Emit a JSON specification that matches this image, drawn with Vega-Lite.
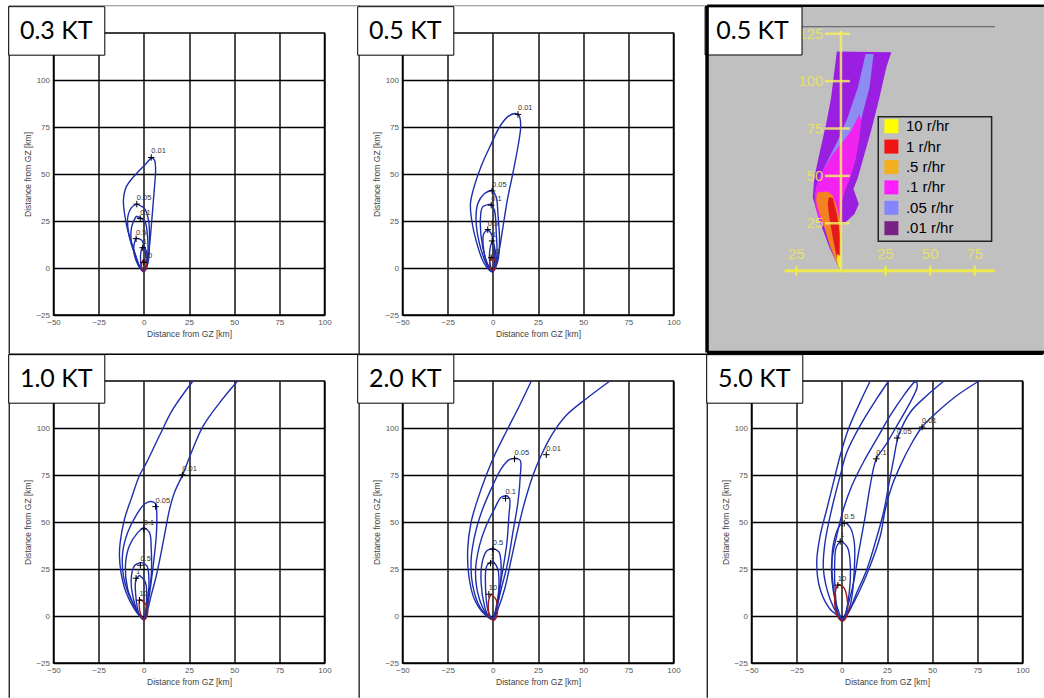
{
"$schema": "https://vega.github.io/schema/vega-lite/v6.json",
"background": "white",
"padding": {"left": 6.5, "top": 3, "right": 0, "bottom": 0},
"datasets": {
"one": [{}],
"contours": [
{"p":"0.3","l":"0.01","i":0,"x":4.1,"y":58.8},{"p":"0.3","l":"0.01","i":1,"x":5.9,"y":57.4},{"p":"0.3","l":"0.01","i":2,"x":6.5,"y":52},{"p":"0.3","l":"0.01","i":3,"x":5.9,"y":43},{"p":"0.3","l":"0.01","i":4,"x":5,"y":32.5},{"p":"0.3","l":"0.01","i":5,"x":4.1,"y":21.8},{"p":"0.3","l":"0.01","i":6,"x":3.1,"y":11.2},{"p":"0.3","l":"0.01","i":7,"x":2.2,"y":2.3},{"p":"0.3","l":"0.01","i":8,"x":0,"y":-2.1},{"p":"0.3","l":"0.01","i":9,"x":-1.5,"y":-0.9},{"p":"0.3","l":"0.01","i":10,"x":-3.3,"y":3.2},{"p":"0.3","l":"0.01","i":11,"x":-6.1,"y":11},{"p":"0.3","l":"0.01","i":12,"x":-8.9,"y":20},{"p":"0.3","l":"0.01","i":13,"x":-10.7,"y":29},{"p":"0.3","l":"0.01","i":14,"x":-11.3,"y":36},{"p":"0.3","l":"0.01","i":15,"x":-9.8,"y":43},{"p":"0.3","l":"0.01","i":16,"x":-4.3,"y":50},{"p":"0.3","l":"0.01","i":17,"x":1.3,"y":55.6},{"p":"0.3","l":"0.01","i":18,"x":4.1,"y":58.8},
{"p":"0.3","l":"0.05","i":0,"x":-3.9,"y":34},{"p":"0.3","l":"0.05","i":1,"x":0.4,"y":31.6},{"p":"0.3","l":"0.05","i":2,"x":2.6,"y":25.4},{"p":"0.3","l":"0.05","i":3,"x":3.1,"y":14.7},{"p":"0.3","l":"0.05","i":4,"x":2.2,"y":4},{"p":"0.3","l":"0.05","i":5,"x":0,"y":-1.5},{"p":"0.3","l":"0.05","i":6,"x":-2.5,"y":0.5},{"p":"0.3","l":"0.05","i":7,"x":-5.2,"y":7.6},{"p":"0.3","l":"0.05","i":8,"x":-8.3,"y":18},{"p":"0.3","l":"0.05","i":9,"x":-8.9,"y":27},{"p":"0.3","l":"0.05","i":10,"x":-6.5,"y":32.5},{"p":"0.3","l":"0.05","i":11,"x":-3.9,"y":34},
{"p":"0.3","l":"0.1","i":0,"x":-4.3,"y":27.5},{"p":"0.3","l":"0.1","i":1,"x":-1.5,"y":26.5},{"p":"0.3","l":"0.1","i":2,"x":0.7,"y":24.5},{"p":"0.3","l":"0.1","i":3,"x":1.9,"y":18.3},{"p":"0.3","l":"0.1","i":4,"x":2.2,"y":7.6},{"p":"0.3","l":"0.1","i":5,"x":0.5,"y":-1},{"p":"0.3","l":"0.1","i":6,"x":-2,"y":0},{"p":"0.3","l":"0.1","i":7,"x":-4.3,"y":5.9},{"p":"0.3","l":"0.1","i":8,"x":-7,"y":14.7},{"p":"0.3","l":"0.1","i":9,"x":-6.7,"y":22},{"p":"0.3","l":"0.1","i":10,"x":-4.3,"y":27.5},
{"p":"0.3","l":"0.5","i":0,"x":-4.3,"y":16},{"p":"0.3","l":"0.5","i":1,"x":-1.5,"y":15},{"p":"0.3","l":"0.5","i":2,"x":-0.6,"y":13.9},{"p":"0.3","l":"0.5","i":3,"x":1,"y":7.6},{"p":"0.3","l":"0.5","i":4,"x":0.5,"y":-0.5},{"p":"0.3","l":"0.5","i":5,"x":-2,"y":0.5},{"p":"0.3","l":"0.5","i":6,"x":-4.3,"y":4},{"p":"0.3","l":"0.5","i":7,"x":-5.6,"y":11.2},{"p":"0.3","l":"0.5","i":8,"x":-4.3,"y":16},
{"p":"0.3","l":"1","i":0,"x":-0.6,"y":11.5},{"p":"0.3","l":"1","i":1,"x":1,"y":10},{"p":"0.3","l":"1","i":2,"x":1.8,"y":4},{"p":"0.3","l":"1","i":3,"x":0.8,"y":-0.5},{"p":"0.3","l":"1","i":4,"x":-1,"y":-0.5},{"p":"0.3","l":"1","i":5,"x":-1.8,"y":4},{"p":"0.3","l":"1","i":6,"x":-1.5,"y":9},{"p":"0.3","l":"1","i":7,"x":-0.6,"y":11.5},
{"p":"0.3","l":"10","i":0,"x":0,"y":4.5},{"p":"0.3","l":"10","i":1,"x":1.2,"y":3},{"p":"0.3","l":"10","i":2,"x":1.5,"y":0.5},{"p":"0.3","l":"10","i":3,"x":0.5,"y":-1.2},{"p":"0.3","l":"10","i":4,"x":-0.8,"y":-1},{"p":"0.3","l":"10","i":5,"x":-1.3,"y":1},{"p":"0.3","l":"10","i":6,"x":-0.8,"y":3.5},{"p":"0.3","l":"10","i":7,"x":0,"y":4.5},

{"p":"0.5","l":"0.01","i":0,"x":13.9,"y":81.7},{"p":"0.5","l":"0.01","i":1,"x":14.8,"y":80.5},{"p":"0.5","l":"0.01","i":2,"x":15.4,"y":75},{"p":"0.5","l":"0.01","i":3,"x":13.9,"y":64.5},{"p":"0.5","l":"0.01","i":4,"x":11,"y":50},{"p":"0.5","l":"0.01","i":5,"x":8,"y":36},{"p":"0.5","l":"0.01","i":6,"x":5.6,"y":21.8},{"p":"0.5","l":"0.01","i":7,"x":3.1,"y":7.6},{"p":"0.5","l":"0.01","i":8,"x":0,"y":-2.1},{"p":"0.5","l":"0.01","i":9,"x":-1.9,"y":-1.2},{"p":"0.5","l":"0.01","i":10,"x":-5.6,"y":4},{"p":"0.5","l":"0.01","i":11,"x":-9.3,"y":14.7},{"p":"0.5","l":"0.01","i":12,"x":-11.7,"y":25.4},{"p":"0.5","l":"0.01","i":13,"x":-12.4,"y":34},{"p":"0.5","l":"0.01","i":14,"x":-11,"y":41},{"p":"0.5","l":"0.01","i":15,"x":-6.5,"y":54},{"p":"0.5","l":"0.01","i":16,"x":-0.9,"y":66},{"p":"0.5","l":"0.01","i":17,"x":3.7,"y":75},{"p":"0.5","l":"0.01","i":18,"x":8.3,"y":80.5},{"p":"0.5","l":"0.01","i":19,"x":12,"y":82.2},{"p":"0.5","l":"0.01","i":20,"x":13.9,"y":81.7},
{"p":"0.5","l":"0.05","i":0,"x":-0.4,"y":41.5},{"p":"0.5","l":"0.05","i":1,"x":1.9,"y":37.8},{"p":"0.5","l":"0.05","i":2,"x":2.8,"y":29},{"p":"0.5","l":"0.05","i":3,"x":3.7,"y":14.7},{"p":"0.5","l":"0.05","i":4,"x":2.8,"y":4},{"p":"0.5","l":"0.05","i":5,"x":0,"y":-1.8},{"p":"0.5","l":"0.05","i":6,"x":-2,"y":-0.5},{"p":"0.5","l":"0.05","i":7,"x":-3.7,"y":2.3},{"p":"0.5","l":"0.05","i":8,"x":-7.4,"y":13},{"p":"0.5","l":"0.05","i":9,"x":-9.3,"y":25.4},{"p":"0.5","l":"0.05","i":10,"x":-8.3,"y":34.3},{"p":"0.5","l":"0.05","i":11,"x":-4.6,"y":39.6},{"p":"0.5","l":"0.05","i":12,"x":-0.4,"y":41.5},
{"p":"0.5","l":"0.1","i":0,"x":-1,"y":34},{"p":"0.5","l":"0.1","i":1,"x":0.9,"y":30.7},{"p":"0.5","l":"0.1","i":2,"x":1.9,"y":18.3},{"p":"0.5","l":"0.1","i":3,"x":2.2,"y":6},{"p":"0.5","l":"0.1","i":4,"x":0,"y":-1.5},{"p":"0.5","l":"0.1","i":5,"x":-2,"y":0},{"p":"0.5","l":"0.1","i":6,"x":-5.6,"y":11.2},{"p":"0.5","l":"0.1","i":7,"x":-6.9,"y":25.4},{"p":"0.5","l":"0.1","i":8,"x":-5.6,"y":32.5},{"p":"0.5","l":"0.1","i":9,"x":-1,"y":34},
{"p":"0.5","l":"0.5","i":0,"x":-2.8,"y":20.4},{"p":"0.5","l":"0.5","i":1,"x":-0.9,"y":18.3},{"p":"0.5","l":"0.5","i":2,"x":0.9,"y":8},{"p":"0.5","l":"0.5","i":3,"x":0,"y":-1},{"p":"0.5","l":"0.5","i":4,"x":-2,"y":0.5},{"p":"0.5","l":"0.5","i":5,"x":-5,"y":9.4},{"p":"0.5","l":"0.5","i":6,"x":-5,"y":18.3},{"p":"0.5","l":"0.5","i":7,"x":-2.8,"y":20.4},
{"p":"0.5","l":"1","i":0,"x":-0.4,"y":14.4},{"p":"0.5","l":"1","i":1,"x":1,"y":11},{"p":"0.5","l":"1","i":2,"x":1.5,"y":3},{"p":"0.5","l":"1","i":3,"x":0,"y":-1},{"p":"0.5","l":"1","i":4,"x":-1.5,"y":2},{"p":"0.5","l":"1","i":5,"x":-1.6,"y":10},{"p":"0.5","l":"1","i":6,"x":-0.4,"y":14.4},
{"p":"0.5","l":"10","i":0,"x":-0.9,"y":5.9},{"p":"0.5","l":"10","i":1,"x":1,"y":4.5},{"p":"0.5","l":"10","i":2,"x":1.5,"y":0.5},{"p":"0.5","l":"10","i":3,"x":0,"y":-1.2},{"p":"0.5","l":"10","i":4,"x":-1.5,"y":0},{"p":"0.5","l":"10","i":5,"x":-1.6,"y":4},{"p":"0.5","l":"10","i":6,"x":-0.9,"y":5.9},

{"p":"1.0","l":"0.01","i":0,"x":27.2,"y":125},{"p":"1.0","l":"0.01","i":1,"x":16.1,"y":110},{"p":"1.0","l":"0.01","i":2,"x":8.7,"y":96},{"p":"1.0","l":"0.01","i":3,"x":1.7,"y":82},{"p":"1.0","l":"0.01","i":4,"x":-2.4,"y":74.7},{"p":"1.0","l":"0.01","i":5,"x":-7,"y":62.3},{"p":"1.0","l":"0.01","i":6,"x":-10.7,"y":51.6},{"p":"1.0","l":"0.01","i":7,"x":-13.1,"y":39},{"p":"1.0","l":"0.01","i":8,"x":-13.5,"y":32},{"p":"1.0","l":"0.01","i":9,"x":-12.6,"y":23},{"p":"1.0","l":"0.01","i":10,"x":-9.8,"y":12.5},{"p":"1.0","l":"0.01","i":11,"x":-5.2,"y":3.6},{"p":"1.0","l":"0.01","i":12,"x":-1.5,"y":-0.9},{"p":"1.0","l":"0.01","i":13,"x":0,"y":-2.1},{"p":"1.0","l":"0.01","i":14,"x":1.7,"y":1.8},{"p":"1.0","l":"0.01","i":15,"x":4,"y":10.7},{"p":"1.0","l":"0.01","i":16,"x":6.9,"y":21.4},{"p":"1.0","l":"0.01","i":17,"x":9.6,"y":33.8},{"p":"1.0","l":"0.01","i":18,"x":12.4,"y":48},{"p":"1.0","l":"0.01","i":19,"x":14.3,"y":57},{"p":"1.0","l":"0.01","i":20,"x":17,"y":65.8},{"p":"1.0","l":"0.01","i":21,"x":21.7,"y":75.6},{"p":"1.0","l":"0.01","i":22,"x":26.3,"y":87},{"p":"1.0","l":"0.01","i":23,"x":32.8,"y":101},{"p":"1.0","l":"0.01","i":24,"x":42,"y":113.5},{"p":"1.0","l":"0.01","i":25,"x":51.9,"y":125},
{"p":"1.0","l":"0.05","i":0,"x":6.9,"y":59.6},{"p":"1.0","l":"0.05","i":1,"x":7.2,"y":53.4},{"p":"1.0","l":"0.05","i":2,"x":6.9,"y":42.7},{"p":"1.0","l":"0.05","i":3,"x":5.4,"y":28.5},{"p":"1.0","l":"0.05","i":4,"x":3.5,"y":14.2},{"p":"1.0","l":"0.05","i":5,"x":1.7,"y":3.6},{"p":"1.0","l":"0.05","i":6,"x":0,"y":-2},{"p":"1.0","l":"0.05","i":7,"x":-3.3,"y":1.8},{"p":"1.0","l":"0.05","i":8,"x":-8,"y":10.7},{"p":"1.0","l":"0.05","i":9,"x":-11.3,"y":21.4},{"p":"1.0","l":"0.05","i":10,"x":-11.7,"y":33.8},{"p":"1.0","l":"0.05","i":11,"x":-8.9,"y":44.5},{"p":"1.0","l":"0.05","i":12,"x":-4.3,"y":53.4},{"p":"1.0","l":"0.05","i":13,"x":0.4,"y":59.6},{"p":"1.0","l":"0.05","i":14,"x":4.1,"y":60.9},{"p":"1.0","l":"0.05","i":15,"x":6.9,"y":59.6},
{"p":"1.0","l":"0.1","i":0,"x":0,"y":47.2},{"p":"1.0","l":"0.1","i":1,"x":3.1,"y":44.5},{"p":"1.0","l":"0.1","i":2,"x":4.1,"y":35.6},{"p":"1.0","l":"0.1","i":3,"x":4.1,"y":21.4},{"p":"1.0","l":"0.1","i":4,"x":1.9,"y":7.1},{"p":"1.0","l":"0.1","i":5,"x":0,"y":-1.8},{"p":"1.0","l":"0.1","i":6,"x":-2.5,"y":0.5},{"p":"1.0","l":"0.1","i":7,"x":-4.3,"y":3.6},{"p":"1.0","l":"0.1","i":8,"x":-8.9,"y":14.2},{"p":"1.0","l":"0.1","i":9,"x":-10.2,"y":26.7},{"p":"1.0","l":"0.1","i":10,"x":-8,"y":37.4},{"p":"1.0","l":"0.1","i":11,"x":-3.3,"y":44.5},{"p":"1.0","l":"0.1","i":12,"x":0,"y":47.2},
{"p":"1.0","l":"0.5","i":0,"x":-1.5,"y":28.5},{"p":"1.0","l":"0.5","i":1,"x":1.7,"y":26.7},{"p":"1.0","l":"0.5","i":2,"x":2.8,"y":19.6},{"p":"1.0","l":"0.5","i":3,"x":2.2,"y":8.9},{"p":"1.0","l":"0.5","i":4,"x":0,"y":-1.5},{"p":"1.0","l":"0.5","i":5,"x":-2.5,"y":0.5},{"p":"1.0","l":"0.5","i":6,"x":-5.7,"y":8.9},{"p":"1.0","l":"0.5","i":7,"x":-7,"y":19.6},{"p":"1.0","l":"0.5","i":8,"x":-5.2,"y":26.7},{"p":"1.0","l":"0.5","i":9,"x":-1.5,"y":28.5},
{"p":"1.0","l":"1","i":0,"x":-2.4,"y":21.7},{"p":"1.0","l":"1","i":1,"x":0.9,"y":17.8},{"p":"1.0","l":"1","i":2,"x":1.5,"y":8},{"p":"1.0","l":"1","i":3,"x":0,"y":-1},{"p":"1.0","l":"1","i":4,"x":-2.5,"y":1},{"p":"1.0","l":"1","i":5,"x":-4.6,"y":12.5},{"p":"1.0","l":"1","i":6,"x":-4.3,"y":19.6},{"p":"1.0","l":"1","i":7,"x":-2.4,"y":21.7},
{"p":"1.0","l":"10","i":0,"x":-2.4,"y":9},{"p":"1.0","l":"10","i":1,"x":0,"y":7.5},{"p":"1.0","l":"10","i":2,"x":1.7,"y":5.3},{"p":"1.0","l":"10","i":3,"x":1.7,"y":0},{"p":"1.0","l":"10","i":4,"x":0,"y":-2},{"p":"1.0","l":"10","i":5,"x":-2,"y":1.8},{"p":"1.0","l":"10","i":6,"x":-2.6,"y":6},{"p":"1.0","l":"10","i":7,"x":-2.4,"y":9},

{"p":"2.0","l":"0.01","i":0,"x":21.3,"y":125},{"p":"2.0","l":"0.01","i":1,"x":14.8,"y":112},{"p":"2.0","l":"0.01","i":2,"x":7.4,"y":98},{"p":"2.0","l":"0.01","i":3,"x":0.9,"y":85.4},{"p":"2.0","l":"0.01","i":4,"x":-3.7,"y":74.7},{"p":"2.0","l":"0.01","i":5,"x":-8.3,"y":62.3},{"p":"2.0","l":"0.01","i":6,"x":-12,"y":50},{"p":"2.0","l":"0.01","i":7,"x":-13.9,"y":35.6},{"p":"2.0","l":"0.01","i":8,"x":-13.3,"y":21.4},{"p":"2.0","l":"0.01","i":9,"x":-10.2,"y":8.9},{"p":"2.0","l":"0.01","i":10,"x":-4.6,"y":0.9},{"p":"2.0","l":"0.01","i":11,"x":0,"y":-1.8},{"p":"2.0","l":"0.01","i":12,"x":2.8,"y":3.6},{"p":"2.0","l":"0.01","i":13,"x":6.5,"y":14.2},{"p":"2.0","l":"0.01","i":14,"x":10.2,"y":30.2},{"p":"2.0","l":"0.01","i":15,"x":13.9,"y":46.3},{"p":"2.0","l":"0.01","i":16,"x":17.6,"y":60.5},{"p":"2.0","l":"0.01","i":17,"x":22.2,"y":74.7},{"p":"2.0","l":"0.01","i":18,"x":25.9,"y":83.6},{"p":"2.0","l":"0.01","i":19,"x":32.4,"y":96},{"p":"2.0","l":"0.01","i":20,"x":40.7,"y":106.8},{"p":"2.0","l":"0.01","i":21,"x":51.9,"y":115.7},{"p":"2.0","l":"0.01","i":22,"x":64.8,"y":125},
{"p":"2.0","l":"0.05","i":0,"x":13,"y":84},{"p":"2.0","l":"0.05","i":1,"x":15.2,"y":82.7},{"p":"2.0","l":"0.05","i":2,"x":15.2,"y":74.7},{"p":"2.0","l":"0.05","i":3,"x":13.9,"y":60.5},{"p":"2.0","l":"0.05","i":4,"x":11.1,"y":44.5},{"p":"2.0","l":"0.05","i":5,"x":8.3,"y":28.5},{"p":"2.0","l":"0.05","i":6,"x":4.6,"y":14.2},{"p":"2.0","l":"0.05","i":7,"x":1.9,"y":3.6},{"p":"2.0","l":"0.05","i":8,"x":0,"y":-1.8},{"p":"2.0","l":"0.05","i":9,"x":-2.5,"y":0},{"p":"2.0","l":"0.05","i":10,"x":-6.5,"y":3.6},{"p":"2.0","l":"0.05","i":11,"x":-11.1,"y":16},{"p":"2.0","l":"0.05","i":12,"x":-12,"y":30.2},{"p":"2.0","l":"0.05","i":13,"x":-9.6,"y":44.5},{"p":"2.0","l":"0.05","i":14,"x":-5.6,"y":57},{"p":"2.0","l":"0.05","i":15,"x":-0.9,"y":67.6},{"p":"2.0","l":"0.05","i":16,"x":4.6,"y":78.3},{"p":"2.0","l":"0.05","i":17,"x":9.3,"y":83.3},{"p":"2.0","l":"0.05","i":18,"x":13,"y":84},
{"p":"2.0","l":"0.1","i":0,"x":7.8,"y":64},{"p":"2.0","l":"0.1","i":1,"x":9.3,"y":62.3},{"p":"2.0","l":"0.1","i":2,"x":8.9,"y":53.4},{"p":"2.0","l":"0.1","i":3,"x":7.8,"y":39.1},{"p":"2.0","l":"0.1","i":4,"x":5.6,"y":24.9},{"p":"2.0","l":"0.1","i":5,"x":3.3,"y":12.5},{"p":"2.0","l":"0.1","i":6,"x":1,"y":1},{"p":"2.0","l":"0.1","i":7,"x":0,"y":-1.5},{"p":"2.0","l":"0.1","i":8,"x":-3,"y":0.5},{"p":"2.0","l":"0.1","i":9,"x":-7.4,"y":8.9},{"p":"2.0","l":"0.1","i":10,"x":-9.6,"y":23.1},{"p":"2.0","l":"0.1","i":11,"x":-7.4,"y":37.4},{"p":"2.0","l":"0.1","i":12,"x":-3.7,"y":48},{"p":"2.0","l":"0.1","i":13,"x":0.9,"y":57},{"p":"2.0","l":"0.1","i":14,"x":4.6,"y":63.2},{"p":"2.0","l":"0.1","i":15,"x":7.8,"y":64},
{"p":"2.0","l":"0.5","i":0,"x":0,"y":36},{"p":"2.0","l":"0.5","i":1,"x":3.3,"y":34.2},{"p":"2.0","l":"0.5","i":2,"x":4.6,"y":26.7},{"p":"2.0","l":"0.5","i":3,"x":3.7,"y":12.5},{"p":"2.0","l":"0.5","i":4,"x":1.5,"y":1},{"p":"2.0","l":"0.5","i":5,"x":0,"y":-1.5},{"p":"2.0","l":"0.5","i":6,"x":-2.5,"y":0},{"p":"2.0","l":"0.5","i":7,"x":-4.6,"y":5.3},{"p":"2.0","l":"0.5","i":8,"x":-6.5,"y":17.8},{"p":"2.0","l":"0.5","i":9,"x":-5.9,"y":28.5},{"p":"2.0","l":"0.5","i":10,"x":-3.3,"y":34.7},{"p":"2.0","l":"0.5","i":11,"x":0,"y":36},
{"p":"2.0","l":"1","i":0,"x":0,"y":29.4},{"p":"2.0","l":"1","i":1,"x":2.8,"y":24.9},{"p":"2.0","l":"1","i":2,"x":3.3,"y":14.2},{"p":"2.0","l":"1","i":3,"x":1.5,"y":2},{"p":"2.0","l":"1","i":4,"x":0,"y":-1.2},{"p":"2.0","l":"1","i":5,"x":-2,"y":1},{"p":"2.0","l":"1","i":6,"x":-4.1,"y":17.8},{"p":"2.0","l":"1","i":7,"x":-3.3,"y":26.7},{"p":"2.0","l":"1","i":8,"x":0,"y":29.4},
{"p":"2.0","l":"10","i":0,"x":-0.9,"y":11.6},{"p":"2.0","l":"10","i":1,"x":1.9,"y":8.5},{"p":"2.0","l":"10","i":2,"x":2.2,"y":0},{"p":"2.0","l":"10","i":3,"x":0.4,"y":-2.3},{"p":"2.0","l":"10","i":4,"x":-1.9,"y":0},{"p":"2.0","l":"10","i":5,"x":-2.2,"y":8.9},{"p":"2.0","l":"10","i":6,"x":-0.9,"y":11.6},

{"p":"5.0","l":"0.01","i":0,"x":15.7,"y":125},{"p":"5.0","l":"0.01","i":1,"x":10.2,"y":113.9},{"p":"5.0","l":"0.01","i":2,"x":3.7,"y":99.6},{"p":"5.0","l":"0.01","i":3,"x":-0.9,"y":85.4},{"p":"5.0","l":"0.01","i":4,"x":-4.6,"y":71.2},{"p":"5.0","l":"0.01","i":5,"x":-8.3,"y":56.9},{"p":"5.0","l":"0.01","i":6,"x":-12,"y":42.7},{"p":"5.0","l":"0.01","i":7,"x":-13.9,"y":28.5},{"p":"5.0","l":"0.01","i":8,"x":-12,"y":14.2},{"p":"5.0","l":"0.01","i":9,"x":-6.5,"y":3.6},{"p":"5.0","l":"0.01","i":10,"x":-0.9,"y":-0.9},{"p":"5.0","l":"0.01","i":11,"x":0,"y":-2.7},{"p":"5.0","l":"0.01","i":12,"x":1.3,"y":-1.4},{"p":"5.0","l":"0.01","i":13,"x":4.6,"y":3.6},{"p":"5.0","l":"0.01","i":14,"x":10.2,"y":14.2},{"p":"5.0","l":"0.01","i":15,"x":15.7,"y":26.7},{"p":"5.0","l":"0.01","i":16,"x":21.3,"y":42.7},{"p":"5.0","l":"0.01","i":17,"x":24.1,"y":56.9},{"p":"5.0","l":"0.01","i":18,"x":27.8,"y":69.4},{"p":"5.0","l":"0.01","i":19,"x":32.4,"y":80},{"p":"5.0","l":"0.01","i":20,"x":38,"y":90.7},{"p":"5.0","l":"0.01","i":21,"x":44.4,"y":100.5},{"p":"5.0","l":"0.01","i":22,"x":52.8,"y":108.5},{"p":"5.0","l":"0.01","i":23,"x":63.9,"y":117.4},{"p":"5.0","l":"0.01","i":24,"x":75.9,"y":125},
{"p":"5.0","l":"0.05","i":0,"x":25.9,"y":125},{"p":"5.0","l":"0.05","i":1,"x":19.4,"y":115.7},{"p":"5.0","l":"0.05","i":2,"x":10.2,"y":101.4},{"p":"5.0","l":"0.05","i":3,"x":2.8,"y":87.2},{"p":"5.0","l":"0.05","i":4,"x":-0.9,"y":74.7},{"p":"5.0","l":"0.05","i":5,"x":-5.6,"y":56.9},{"p":"5.0","l":"0.05","i":6,"x":-9.3,"y":39.1},{"p":"5.0","l":"0.05","i":7,"x":-10.2,"y":24.9},{"p":"5.0","l":"0.05","i":8,"x":-6.5,"y":8.9},{"p":"5.0","l":"0.05","i":9,"x":-1.9,"y":0},{"p":"5.0","l":"0.05","i":10,"x":0,"y":-2.3},{"p":"5.0","l":"0.05","i":11,"x":1.5,"y":-0.5},{"p":"5.0","l":"0.05","i":12,"x":3.7,"y":1.8},{"p":"5.0","l":"0.05","i":13,"x":8.3,"y":12.5},{"p":"5.0","l":"0.05","i":14,"x":13.9,"y":24.9},{"p":"5.0","l":"0.05","i":15,"x":18.5,"y":39.1},{"p":"5.0","l":"0.05","i":16,"x":23.1,"y":55.2},{"p":"5.0","l":"0.05","i":17,"x":25.9,"y":69.4},{"p":"5.0","l":"0.05","i":18,"x":28.7,"y":83.6},{"p":"5.0","l":"0.05","i":19,"x":31.5,"y":96.1},{"p":"5.0","l":"0.05","i":20,"x":38,"y":108.5},{"p":"5.0","l":"0.05","i":21,"x":47.2,"y":117.4},{"p":"5.0","l":"0.05","i":22,"x":56.5,"y":125},
{"p":"5.0","l":"0.1","i":0,"x":39.8,"y":124.2},{"p":"5.0","l":"0.1","i":1,"x":34.3,"y":117.4},{"p":"5.0","l":"0.1","i":2,"x":26.9,"y":106.8},{"p":"5.0","l":"0.1","i":3,"x":19.4,"y":94.3},{"p":"5.0","l":"0.1","i":4,"x":12,"y":81.9},{"p":"5.0","l":"0.1","i":5,"x":5.6,"y":69.4},{"p":"5.0","l":"0.1","i":6,"x":0.9,"y":56.9},{"p":"5.0","l":"0.1","i":7,"x":-2.8,"y":42.7},{"p":"5.0","l":"0.1","i":8,"x":-5.6,"y":28.5},{"p":"5.0","l":"0.1","i":9,"x":-4.6,"y":12.5},{"p":"5.0","l":"0.1","i":10,"x":-0.9,"y":0},{"p":"5.0","l":"0.1","i":11,"x":0,"y":-2},{"p":"5.0","l":"0.1","i":12,"x":1.5,"y":-0.5},{"p":"5.0","l":"0.1","i":13,"x":2.8,"y":3.6},{"p":"5.0","l":"0.1","i":14,"x":6.5,"y":17.8},{"p":"5.0","l":"0.1","i":15,"x":9.3,"y":33.8},{"p":"5.0","l":"0.1","i":16,"x":13,"y":53.4},{"p":"5.0","l":"0.1","i":17,"x":15.7,"y":69.4},{"p":"5.0","l":"0.1","i":18,"x":19.1,"y":83.6},{"p":"5.0","l":"0.1","i":19,"x":24.1,"y":90.7},{"p":"5.0","l":"0.1","i":20,"x":30.6,"y":101.4},{"p":"5.0","l":"0.1","i":21,"x":38,"y":113.9},{"p":"5.0","l":"0.1","i":22,"x":41.7,"y":121.9},{"p":"5.0","l":"0.1","i":23,"x":41.2,"y":124.5},{"p":"5.0","l":"0.1","i":24,"x":39.8,"y":124.2},
{"p":"5.0","l":"0.5","i":0,"x":1.9,"y":49.8},{"p":"5.0","l":"0.5","i":1,"x":4.6,"y":47.2},{"p":"5.0","l":"0.5","i":2,"x":6.9,"y":39.1},{"p":"5.0","l":"0.5","i":3,"x":6.9,"y":24.9},{"p":"5.0","l":"0.5","i":4,"x":5,"y":7.1},{"p":"5.0","l":"0.5","i":5,"x":2.4,"y":0},{"p":"5.0","l":"0.5","i":6,"x":0,"y":-2},{"p":"5.0","l":"0.5","i":7,"x":-2,"y":0},{"p":"5.0","l":"0.5","i":8,"x":-3.5,"y":7.1},{"p":"5.0","l":"0.5","i":9,"x":-5.5,"y":24.9},{"p":"5.0","l":"0.5","i":10,"x":-4.5,"y":39.1},{"p":"5.0","l":"0.5","i":11,"x":-0.9,"y":48.4},{"p":"5.0","l":"0.5","i":12,"x":1.9,"y":49.8},
{"p":"5.0","l":"1","i":0,"x":-0.6,"y":40},{"p":"5.0","l":"1","i":1,"x":3.1,"y":36.5},{"p":"5.0","l":"1","i":2,"x":4.6,"y":28.5},{"p":"5.0","l":"1","i":3,"x":4.1,"y":12.5},{"p":"5.0","l":"1","i":4,"x":1.5,"y":0},{"p":"5.0","l":"1","i":5,"x":0,"y":-1.5},{"p":"5.0","l":"1","i":6,"x":-2,"y":0.5},{"p":"5.0","l":"1","i":7,"x":-3.6,"y":12.5},{"p":"5.0","l":"1","i":8,"x":-4,"y":26.7},{"p":"5.0","l":"1","i":9,"x":-3.1,"y":36.5},{"p":"5.0","l":"1","i":10,"x":-0.6,"y":40},
{"p":"5.0","l":"10","i":0,"x":-1.9,"y":16.9},{"p":"5.0","l":"10","i":1,"x":1.3,"y":14.8},{"p":"5.0","l":"10","i":2,"x":3.1,"y":7.8},{"p":"5.0","l":"10","i":3,"x":2.8,"y":0},{"p":"5.0","l":"10","i":4,"x":0,"y":-2.7},{"p":"5.0","l":"10","i":5,"x":-2.8,"y":0.9},{"p":"5.0","l":"10","i":6,"x":-4,"y":8.9},{"p":"5.0","l":"10","i":7,"x":-3.2,"y":14.5},{"p":"5.0","l":"10","i":8,"x":-1.9,"y":16.9}
],
"marks": [
{"p":"0.3","t":"0.01","x":4.1,"y":58.8},{"p":"0.3","t":"0.05","x":-3.9,"y":34},{"p":"0.3","t":"0.1","x":-2,"y":26.3},{"p":"0.3","t":"0.5","x":-4.3,"y":15.6},{"p":"0.3","t":"1","x":-0.6,"y":10.8},{"p":"0.3","t":"10","x":0,"y":3},
{"p":"0.5","t":"0.01","x":13.9,"y":81.7},{"p":"0.5","t":"0.05","x":-0.4,"y":41},{"p":"0.5","t":"0.1","x":-0.9,"y":33.4},{"p":"0.5","t":"0.5","x":-2.8,"y":20.4},{"p":"0.5","t":"1","x":-0.4,"y":14.4},{"p":"0.5","t":"10","x":-0.9,"y":5.5},
{"p":"1.0","t":"0.01","x":21.3,"y":75.1},{"p":"1.0","t":"0.05","x":6.5,"y":58.2},{"p":"1.0","t":"0.1","x":0,"y":46.3},{"p":"1.0","t":"0.5","x":-1.9,"y":27},{"p":"1.0","t":"1","x":-4.3,"y":20.1},{"p":"1.0","t":"10","x":-2.4,"y":8.4},
{"p":"2.0","t":"0.01","x":29.6,"y":85.8},{"p":"2.0","t":"0.05","x":12,"y":83.6},{"p":"2.0","t":"0.1","x":7,"y":62.6},{"p":"2.0","t":"0.5","x":0,"y":35.5},{"p":"2.0","t":"1","x":-1.3,"y":28.1},{"p":"2.0","t":"10","x":-2.2,"y":11.6},
{"p":"5.0","t":"0.01","x":44.4,"y":100.5},{"p":"5.0","t":"0.05","x":30.6,"y":94.7},{"p":"5.0","t":"0.1","x":19.1,"y":83.6},{"p":"5.0","t":"0.5","x":1.3,"y":49.3},{"p":"5.0","t":"1","x":-0.9,"y":39.7},{"p":"5.0","t":"10","x":-2.2,"y":16.4}
],
"plume": [
{"z":".01","i":0,"x":-2.3,"y":115.7},{"z":".01","i":1,"x":28.2,"y":115.2},{"z":".01","i":2,"x":25.4,"y":107.2},{"z":".01","i":3,"x":21.6,"y":91.4},{"z":".01","i":4,"x":16.9,"y":73.8},{"z":".01","i":5,"x":13.2,"y":61.5},{"z":".01","i":6,"x":9.5,"y":49.2},{"z":".01","i":7,"x":7,"y":43.1},{"z":".01","i":8,"x":10,"y":35.2},{"z":".01","i":9,"x":7.6,"y":29.9},{"z":".01","i":10,"x":2,"y":25},{"z":".01","i":11,"x":0.1,"y":24.3},{"z":".01","i":12,"x":0.1,"y":12.3},{"z":".01","i":13,"x":-0.8,"y":0.9},{"z":".01","i":14,"x":-6.5,"y":12.3},{"z":".01","i":15,"x":-12.1,"y":26.4},{"z":".01","i":16,"x":-15.8,"y":38.7},{"z":".01","i":17,"x":-14.9,"y":49.2},{"z":".01","i":18,"x":-12.1,"y":61.5},{"z":".01","i":19,"x":-8.3,"y":77.4},{"z":".01","i":20,"x":-5.5,"y":91.4},
{"z":".05","i":0,"x":13.8,"y":114.3},{"z":".05","i":1,"x":18.3,"y":114.3},{"z":".05","i":2,"x":16,"y":96.7},{"z":".05","i":3,"x":12.3,"y":83.5},{"z":".05","i":4,"x":11.3,"y":79.1},{"z":".05","i":5,"x":9.5,"y":66.8},{"z":".05","i":6,"x":7,"y":56.3},{"z":".05","i":7,"x":3.8,"y":47.5},{"z":".05","i":8,"x":1,"y":40.4},{"z":".05","i":9,"x":0.1,"y":33.4},{"z":".05","i":10,"x":-0.8,"y":22.9},{"z":".05","i":11,"x":-6.5,"y":26.4},{"z":".05","i":12,"x":-13,"y":38.7},{"z":".05","i":13,"x":-13.9,"y":44},{"z":".05","i":14,"x":-11.1,"y":51},{"z":".05","i":15,"x":-6.5,"y":59.8},{"z":".05","i":16,"x":-1.8,"y":68.6},{"z":".05","i":17,"x":3.8,"y":80.9},{"z":".05","i":18,"x":9.5,"y":96.7},
{"z":".1","i":0,"x":10.4,"y":82.6},{"z":".1","i":1,"x":11.3,"y":79.1},{"z":".1","i":2,"x":10.4,"y":70.3},{"z":".1","i":3,"x":8.1,"y":58},{"z":".1","i":4,"x":5.2,"y":49.2},{"z":".1","i":5,"x":2.3,"y":42.2},{"z":".1","i":6,"x":0.5,"y":36},{"z":".1","i":7,"x":-0.3,"y":26.4},{"z":".1","i":8,"x":-6.5,"y":19.3},{"z":".1","i":9,"x":-12.1,"y":26.4},{"z":".1","i":10,"x":-14.3,"y":33.4},{"z":".1","i":11,"x":-14.7,"y":40.4},{"z":".1","i":12,"x":-13.4,"y":45.7},{"z":".1","i":13,"x":-10.2,"y":52.7},{"z":".1","i":14,"x":-4.6,"y":61.5},{"z":".1","i":15,"x":0.1,"y":66.8},{"z":".1","i":16,"x":5.7,"y":73.8},
{"z":".5","i":0,"x":-13.4,"y":41.3},{"z":".5","i":1,"x":-7.4,"y":41.8},{"z":".5","i":2,"x":-4.6,"y":39.6},{"z":".5","i":3,"x":-2.3,"y":33.4},{"z":".5","i":4,"x":-0.5,"y":26.4},{"z":".5","i":5,"x":0.1,"y":17.6},{"z":".5","i":6,"x":-0.3,"y":8.8},{"z":".5","i":7,"x":-0.8,"y":0.9},{"z":".5","i":8,"x":-3.7,"y":7},{"z":".5","i":9,"x":-6.5,"y":14.1},{"z":".5","i":10,"x":-9.3,"y":22.9},{"z":".5","i":11,"x":-12.5,"y":31.6},{"z":".5","i":12,"x":-13.9,"y":36.9},
{"z":"1","i":0,"x":-6.8,"y":38.7},{"z":"1","i":1,"x":-4.6,"y":38.3},{"z":"1","i":2,"x":-2.3,"y":29.9},{"z":"1","i":3,"x":-0.5,"y":19.3},{"z":"1","i":4,"x":-0.5,"y":8.8},{"z":"1","i":5,"x":-1.2,"y":2.1},{"z":"1","i":6,"x":-2.7,"y":8.8},{"z":"1","i":7,"x":-4.6,"y":17.6},{"z":"1","i":8,"x":-6.5,"y":28.1},{"z":"1","i":9,"x":-7.4,"y":35.2},
{"z":"10","i":0,"x":-2,"y":8.8},{"z":"10","i":1,"x":-0.5,"y":7.7},{"z":"10","i":2,"x":-0.1,"y":2.1},{"z":"10","i":3,"x":-1.2,"y":1.4},{"z":"10","i":4,"x":-2.3,"y":5.3}
],
"legend": [{"lvl":"10 r/hr"},{"lvl":"1 r/hr"},{"lvl":".5 r/hr"},{"lvl":".1 r/hr"},{"lvl":".05 r/hr"},{"lvl":".01 r/hr"}],
"xticks": [{"v":-25,"lab":"25"},{"v":25,"lab":"25"},{"v":50,"lab":"50"},{"v":75,"lab":"75"}],
"yticks": [{"v":25,"lab":"25"},{"v":50,"lab":"50"},{"v":75,"lab":"75"},{"v":100,"lab":"100"},{"v":125,"lab":"125"}]
},
"columns": 3,
"spacing": {"row": 66, "column": 78},
"bounds": "flush",
"resolve": {"scale": {"fill": "independent"}, "legend": {"fill": "independent"}},
"concat": [
 {"width": 271, "height": 282, "layer": [
  {"data": {"name": "contours"}, "transform": [{"filter": "datum.p == '0.3'"}], "mark": {"type": "line", "interpolate": "catmull-rom", "strokeWidth": 1.4},
   "encoding": {"x": {"field": "x", "type": "quantitative", "scale": {"domain": [-50, 100], "nice": false}, "axis": {"values": [-50, -25, 0, 25, 50, 75, 100], "title": "Distance from GZ [km]"}},
    "y": {"field": "y", "type": "quantitative", "scale": {"domain": [-25, 125], "nice": false}, "axis": {"values": [-25, 0, 25, 50, 75, 100], "title": "Distance from GZ [km]"}},
    "detail": {"field": "l"}, "order": {"field": "i", "type": "quantitative"},
    "color": {"field": "l", "type": "nominal", "scale": {"domain": ["0.01", "0.05", "0.1", "0.5", "1", "10"], "range": ["#1e2fae", "#1e2fae", "#1e2fae", "#1e2fae", "#1e2fae", "#a01818"]}, "legend": null}}},
  {"data": {"name": "marks"}, "transform": [{"filter": "datum.p == '0.3'"}], "mark": {"type": "point", "shape": "M-1,0L1,0M0,-1L0,1", "size": 42, "filled": false, "color": "#000", "strokeWidth": 1, "opacity": 1},
   "encoding": {"x": {"field": "x", "type": "quantitative"}, "y": {"field": "y", "type": "quantitative"}}},
  {"data": {"name": "marks"}, "transform": [{"filter": "datum.p == '0.3'"}], "mark": {"type": "text", "align": "left", "baseline": "alphabetic", "dx": 0, "dy": -4, "fontSize": 7.5, "font": "Liberation Sans", "color": "#333"},
   "encoding": {"x": {"field": "x", "type": "quantitative"}, "y": {"field": "y", "type": "quantitative"}, "text": {"field": "t"}}},
  {"data": {"name": "one"}, "mark": {"type": "rule", "color": "#8a8a8a", "strokeWidth": 1}, "encoding": {"x": {"datum": -74.5}, "x2": {"datum": 119.5}, "y": {"datum": 139.5}}},
  {"data": {"name": "one"}, "mark": {"type": "rule", "color": "#000", "strokeWidth": 1.2}, "encoding": {"x": {"datum": -74.5}, "y": {"datum": 139.5}, "y2": {"datum": -45.6}}},
  {"data": {"name": "one"}, "mark": {"type": "rect", "fill": "#fff", "stroke": "#000", "strokeWidth": 1}, "encoding": {"x": {"datum": -74.8}, "x2": {"datum": -21.6}, "y": {"datum": 139.0}, "y2": {"datum": 113.2}}},
  {"data": {"name": "one"}, "mark": {"type": "text", "font": "Lato", "fontSize": 25, "align": "center", "baseline": "middle", "color": "#000"}, "encoding": {"x": {"datum": -48.5}, "y": {"datum": 126.1}, "text": {"value": "0.3 KT"}}}
 ]},
 {"width": 271, "height": 282, "layer": [
  {"data": {"name": "contours"}, "transform": [{"filter": "datum.p == '0.5'"}], "mark": {"type": "line", "interpolate": "catmull-rom", "strokeWidth": 1.4},
   "encoding": {"x": {"field": "x", "type": "quantitative", "scale": {"domain": [-50, 100], "nice": false}, "axis": {"values": [-50, -25, 0, 25, 50, 75, 100], "title": "Distance from GZ [km]"}},
    "y": {"field": "y", "type": "quantitative", "scale": {"domain": [-25, 125], "nice": false}, "axis": {"values": [-25, 0, 25, 50, 75, 100], "title": "Distance from GZ [km]"}},
    "detail": {"field": "l"}, "order": {"field": "i", "type": "quantitative"},
    "color": {"field": "l", "type": "nominal", "scale": {"domain": ["0.01", "0.05", "0.1", "0.5", "1", "10"], "range": ["#1e2fae", "#1e2fae", "#1e2fae", "#1e2fae", "#1e2fae", "#a01818"]}, "legend": null}}},
  {"data": {"name": "marks"}, "transform": [{"filter": "datum.p == '0.5'"}], "mark": {"type": "point", "shape": "M-1,0L1,0M0,-1L0,1", "size": 42, "filled": false, "color": "#000", "strokeWidth": 1, "opacity": 1},
   "encoding": {"x": {"field": "x", "type": "quantitative"}, "y": {"field": "y", "type": "quantitative"}}},
  {"data": {"name": "marks"}, "transform": [{"filter": "datum.p == '0.5'"}], "mark": {"type": "text", "align": "left", "baseline": "alphabetic", "dx": 0, "dy": -4, "fontSize": 7.5, "font": "Liberation Sans", "color": "#333"},
   "encoding": {"x": {"field": "x", "type": "quantitative"}, "y": {"field": "y", "type": "quantitative"}, "text": {"field": "t"}}},
  {"data": {"name": "one"}, "mark": {"type": "rule", "color": "#8a8a8a", "strokeWidth": 1}, "encoding": {"x": {"datum": -74.0}, "x2": {"datum": 118.65}, "y": {"datum": 139.5}}},
  {"data": {"name": "one"}, "mark": {"type": "rule", "color": "#000", "strokeWidth": 1.2}, "encoding": {"x": {"datum": -74.0}, "y": {"datum": 139.5}, "y2": {"datum": -45.6}}},
  {"data": {"name": "one"}, "mark": {"type": "rect", "fill": "#fff", "stroke": "#000", "strokeWidth": 1}, "encoding": {"x": {"datum": -74.8}, "x2": {"datum": -21.6}, "y": {"datum": 139.0}, "y2": {"datum": 113.2}}},
  {"data": {"name": "one"}, "mark": {"type": "text", "font": "Lato", "fontSize": 25, "align": "center", "baseline": "middle", "color": "#000"}, "encoding": {"x": {"datum": -48.5}, "y": {"datum": 126.1}, "text": {"value": "0.5 KT"}}}
 ]},
 {"width": 271, "height": 282, "view": {"stroke": null}, "layer": [
  {"data": {"name": "one"}, "mark": {"type": "rect", "fill": "#c0c0c0", "strokeWidth": 0},
   "encoding": {"x": {"datum": -75.0, "scale": {"domain": [-50.1, 101.7], "nice": false}, "axis": {"grid": false, "labels": false, "ticks": false, "domain": false, "title": null}},
    "x2": {"datum": 113.7},
    "y": {"datum": 139.8, "scale": {"domain": [-23.4, 125.4], "nice": false}, "axis": {"grid": false, "labels": false, "ticks": false, "domain": false, "title": null}},
    "y2": {"datum": -43.2}}},
  {"data": {"name": "one"}, "mark": {"type": "rule", "color": "#555", "strokeWidth": 1}, "encoding": {"x": {"datum": -21.6}, "x2": {"datum": 86.2}, "y": {"datum": 128.7}}},
  {"data": {"name": "plume"}, "transform": [{"filter": "datum.z == '.01'"}], "mark": {"type": "line", "filled": true, "color": "#9a1fe0", "strokeWidth": 0}, "encoding": {"x": {"field": "x", "type": "quantitative"}, "y": {"field": "y", "type": "quantitative"}, "order": {"field": "i", "type": "quantitative"}}},
  {"data": {"name": "plume"}, "transform": [{"filter": "datum.z == '.05'"}], "mark": {"type": "line", "filled": true, "color": "#8c8cf2", "strokeWidth": 0}, "encoding": {"x": {"field": "x", "type": "quantitative"}, "y": {"field": "y", "type": "quantitative"}, "order": {"field": "i", "type": "quantitative"}}},
  {"data": {"name": "plume"}, "transform": [{"filter": "datum.z == '.1'"}], "mark": {"type": "line", "filled": true, "color": "#f223f0", "strokeWidth": 0}, "encoding": {"x": {"field": "x", "type": "quantitative"}, "y": {"field": "y", "type": "quantitative"}, "order": {"field": "i", "type": "quantitative"}}},
  {"data": {"name": "plume"}, "transform": [{"filter": "datum.z == '.5'"}], "mark": {"type": "line", "filled": true, "color": "#f38224", "strokeWidth": 0}, "encoding": {"x": {"field": "x", "type": "quantitative"}, "y": {"field": "y", "type": "quantitative"}, "order": {"field": "i", "type": "quantitative"}}},
  {"data": {"name": "plume"}, "transform": [{"filter": "datum.z == '1'"}], "mark": {"type": "line", "filled": true, "color": "#e21a1a", "strokeWidth": 0}, "encoding": {"x": {"field": "x", "type": "quantitative"}, "y": {"field": "y", "type": "quantitative"}, "order": {"field": "i", "type": "quantitative"}}},
  {"data": {"name": "plume"}, "transform": [{"filter": "datum.z == '10'"}], "mark": {"type": "line", "filled": true, "color": "#f0ec20", "strokeWidth": 0}, "encoding": {"x": {"field": "x", "type": "quantitative"}, "y": {"field": "y", "type": "quantitative"}, "order": {"field": "i", "type": "quantitative"}}},
  {"data": {"name": "one"}, "mark": {"type": "rule", "color": "#f2ec62", "strokeWidth": 2.5, "opacity": 0.85}, "encoding": {"x": {"datum": 0}, "y": {"datum": -1}, "y2": {"datum": 126.6}}},
  {"data": {"name": "one"}, "mark": {"type": "rule", "color": "#f2ec40", "strokeWidth": 3, "opacity": 0.9}, "encoding": {"x": {"datum": -31.6}, "x2": {"datum": 86.2}, "y": {"datum": 0}}},
  {"data": {"name": "yticks"}, "mark": {"type": "rule", "color": "#f2ec62", "strokeWidth": 2.5, "opacity": 0.85}, "encoding": {"x": {"datum": -9}, "x2": {"datum": 5}, "y": {"field": "v", "type": "quantitative"}}},
  {"data": {"name": "yticks"}, "mark": {"type": "text", "align": "right", "baseline": "middle", "font": "Liberation Sans", "fontSize": 15, "color": "#ece45e", "opacity": 0.9}, "encoding": {"x": {"datum": -9.8}, "y": {"field": "v", "type": "quantitative"}, "text": {"field": "lab"}}},
  {"data": {"name": "xticks"}, "mark": {"type": "rule", "color": "#f2ec40", "strokeWidth": 2.5, "opacity": 0.9}, "encoding": {"x": {"field": "v", "type": "quantitative"}, "y": {"datum": -2.6}, "y2": {"datum": 2.6}}},
  {"data": {"name": "xticks"}, "mark": {"type": "text", "align": "center", "baseline": "middle", "font": "Liberation Sans", "fontSize": 15, "color": "#ece45e", "opacity": 0.9}, "encoding": {"x": {"field": "v", "type": "quantitative"}, "y": {"datum": 9}, "text": {"field": "lab"}}},
  {"data": {"name": "one"}, "mark": {"type": "rect", "fill": "#c0c0c0", "stroke": "#222", "strokeWidth": 1.5}, "encoding": {"x": {"datum": 20.9}, "x2": {"datum": 84.4}, "y": {"datum": 81.2}, "y2": {"datum": 15.5}}},
  {"data": {"name": "legend"}, "mark": {"type": "point", "filled": true, "opacity": 0, "shape": "square"},
   "encoding": {"x": {"datum": 0}, "y": {"datum": 0},
    "fill": {"field": "lvl", "type": "nominal", "scale": {"domain": ["10 r/hr", "1 r/hr", ".5 r/hr", ".1 r/hr", ".05 r/hr", ".01 r/hr"], "range": ["#ffff00", "#f01414", "#f2b01e", "#ff1cff", "#8484ff", "#7a2188"]},
     "legend": {"orient": "none", "legendX": 126.4, "legendY": 79.7, "title": null, "symbolType": "square", "symbolSize": 196, "symbolOpacity": 1, "symbolStrokeWidth": 0, "labelFont": "Liberation Sans", "labelFontSize": 15, "labelColor": "#000", "labelOffset": 7, "rowPadding": 4.4, "padding": 6, "labelLimit": 200}}}},
  {"data": {"name": "one"}, "mark": {"type": "rect", "fill": "#fff", "stroke": "#000", "strokeWidth": 1}, "encoding": {"x": {"datum": -76.1}, "x2": {"datum": -21.8}, "y": {"datum": 139.2}, "y2": {"datum": 113.8}}},
  {"data": {"name": "one"}, "mark": {"type": "text", "font": "Lato", "fontSize": 25, "align": "center", "baseline": "middle", "color": "#000"}, "encoding": {"x": {"datum": -49.5}, "y": {"datum": 126.5}, "text": {"value": "0.5 KT"}}},
  {"data": {"name": "one"}, "mark": {"type": "rule", "color": "#000", "strokeWidth": 3.5}, "encoding": {"x": {"datum": -75.0}, "y": {"datum": 139.8}, "y2": {"datum": -43.2}}},
  {"data": {"name": "one"}, "mark": {"type": "rule", "color": "#000", "strokeWidth": 2.5}, "encoding": {"x": {"datum": -75.0}, "x2": {"datum": 113.7}, "y": {"datum": 139.8}}},
  {"data": {"name": "one"}, "mark": {"type": "rule", "color": "#000", "strokeWidth": 3.5}, "encoding": {"x": {"datum": -75.0}, "x2": {"datum": 113.7}, "y": {"datum": -43.2}}}
 ]},
 {"width": 271, "height": 282, "layer": [
  {"data": {"name": "contours"}, "transform": [{"filter": "datum.p == '1.0'"}], "mark": {"type": "line", "interpolate": "catmull-rom", "strokeWidth": 1.4},
   "encoding": {"x": {"field": "x", "type": "quantitative", "scale": {"domain": [-50, 100], "nice": false}, "axis": {"values": [-50, -25, 0, 25, 50, 75, 100], "title": "Distance from GZ [km]"}},
    "y": {"field": "y", "type": "quantitative", "scale": {"domain": [-25, 125], "nice": false}, "axis": {"values": [-25, 0, 25, 50, 75, 100], "title": "Distance from GZ [km]"}},
    "detail": {"field": "l"}, "order": {"field": "i", "type": "quantitative"},
    "color": {"field": "l", "type": "nominal", "scale": {"domain": ["0.01", "0.05", "0.1", "0.5", "1", "10"], "range": ["#1e2fae", "#1e2fae", "#1e2fae", "#1e2fae", "#1e2fae", "#a01818"]}, "legend": null}}},
  {"data": {"name": "marks"}, "transform": [{"filter": "datum.p == '1.0'"}], "mark": {"type": "point", "shape": "M-1,0L1,0M0,-1L0,1", "size": 42, "filled": false, "color": "#000", "strokeWidth": 1, "opacity": 1},
   "encoding": {"x": {"field": "x", "type": "quantitative"}, "y": {"field": "y", "type": "quantitative"}}},
  {"data": {"name": "marks"}, "transform": [{"filter": "datum.p == '1.0'"}], "mark": {"type": "text", "align": "left", "baseline": "alphabetic", "dx": 0, "dy": -4, "fontSize": 7.5, "font": "Liberation Sans", "color": "#333"},
   "encoding": {"x": {"field": "x", "type": "quantitative"}, "y": {"field": "y", "type": "quantitative"}, "text": {"field": "t"}}},
  {"data": {"name": "one"}, "mark": {"type": "rule", "color": "#000", "strokeWidth": 1.5}, "encoding": {"x": {"datum": -74.5}, "x2": {"datum": 119.5}, "y": {"datum": 139.25}}},
  {"data": {"name": "one"}, "mark": {"type": "rule", "color": "#000", "strokeWidth": 1.2}, "encoding": {"x": {"datum": -74.5}, "y": {"datum": 139.25}, "y2": {"datum": -43.5}}},
  {"data": {"name": "one"}, "mark": {"type": "rect", "fill": "#fff", "stroke": "#000", "strokeWidth": 1}, "encoding": {"x": {"datum": -74.8}, "x2": {"datum": -21.6}, "y": {"datum": 139.0}, "y2": {"datum": 113.2}}},
  {"data": {"name": "one"}, "mark": {"type": "text", "font": "Lato", "fontSize": 25, "align": "center", "baseline": "middle", "color": "#000"}, "encoding": {"x": {"datum": -48.5}, "y": {"datum": 126.1}, "text": {"value": "1.0 KT"}}}
 ]},
 {"width": 271, "height": 282, "layer": [
  {"data": {"name": "contours"}, "transform": [{"filter": "datum.p == '2.0'"}], "mark": {"type": "line", "interpolate": "catmull-rom", "strokeWidth": 1.4},
   "encoding": {"x": {"field": "x", "type": "quantitative", "scale": {"domain": [-50, 100], "nice": false}, "axis": {"values": [-50, -25, 0, 25, 50, 75, 100], "title": "Distance from GZ [km]"}},
    "y": {"field": "y", "type": "quantitative", "scale": {"domain": [-25, 125], "nice": false}, "axis": {"values": [-25, 0, 25, 50, 75, 100], "title": "Distance from GZ [km]"}},
    "detail": {"field": "l"}, "order": {"field": "i", "type": "quantitative"},
    "color": {"field": "l", "type": "nominal", "scale": {"domain": ["0.01", "0.05", "0.1", "0.5", "1", "10"], "range": ["#1e2fae", "#1e2fae", "#1e2fae", "#1e2fae", "#1e2fae", "#a01818"]}, "legend": null}}},
  {"data": {"name": "marks"}, "transform": [{"filter": "datum.p == '2.0'"}], "mark": {"type": "point", "shape": "M-1,0L1,0M0,-1L0,1", "size": 42, "filled": false, "color": "#000", "strokeWidth": 1, "opacity": 1},
   "encoding": {"x": {"field": "x", "type": "quantitative"}, "y": {"field": "y", "type": "quantitative"}}},
  {"data": {"name": "marks"}, "transform": [{"filter": "datum.p == '2.0'"}], "mark": {"type": "text", "align": "left", "baseline": "alphabetic", "dx": 0, "dy": -4, "fontSize": 7.5, "font": "Liberation Sans", "color": "#333"},
   "encoding": {"x": {"field": "x", "type": "quantitative"}, "y": {"field": "y", "type": "quantitative"}, "text": {"field": "t"}}},
  {"data": {"name": "one"}, "mark": {"type": "rule", "color": "#000", "strokeWidth": 1.5}, "encoding": {"x": {"datum": -74.0}, "x2": {"datum": 118.65}, "y": {"datum": 139.25}}},
  {"data": {"name": "one"}, "mark": {"type": "rule", "color": "#000", "strokeWidth": 1.2}, "encoding": {"x": {"datum": -74.0}, "y": {"datum": 139.25}, "y2": {"datum": -43.5}}},
  {"data": {"name": "one"}, "mark": {"type": "rect", "fill": "#fff", "stroke": "#000", "strokeWidth": 1}, "encoding": {"x": {"datum": -74.8}, "x2": {"datum": -21.6}, "y": {"datum": 139.0}, "y2": {"datum": 113.2}}},
  {"data": {"name": "one"}, "mark": {"type": "text", "font": "Lato", "fontSize": 25, "align": "center", "baseline": "middle", "color": "#000"}, "encoding": {"x": {"datum": -48.5}, "y": {"datum": 126.1}, "text": {"value": "2.0 KT"}}}
 ]},
 {"width": 271, "height": 282, "layer": [
  {"data": {"name": "contours"}, "transform": [{"filter": "datum.p == '5.0'"}], "mark": {"type": "line", "interpolate": "catmull-rom", "strokeWidth": 1.4},
   "encoding": {"x": {"field": "x", "type": "quantitative", "scale": {"domain": [-50, 100], "nice": false}, "axis": {"values": [-50, -25, 0, 25, 50, 75, 100], "title": "Distance from GZ [km]"}},
    "y": {"field": "y", "type": "quantitative", "scale": {"domain": [-25, 125], "nice": false}, "axis": {"values": [-25, 0, 25, 50, 75, 100], "title": "Distance from GZ [km]"}},
    "detail": {"field": "l"}, "order": {"field": "i", "type": "quantitative"},
    "color": {"field": "l", "type": "nominal", "scale": {"domain": ["0.01", "0.05", "0.1", "0.5", "1", "10"], "range": ["#1e2fae", "#1e2fae", "#1e2fae", "#1e2fae", "#1e2fae", "#a01818"]}, "legend": null}}},
  {"data": {"name": "marks"}, "transform": [{"filter": "datum.p == '5.0'"}], "mark": {"type": "point", "shape": "M-1,0L1,0M0,-1L0,1", "size": 42, "filled": false, "color": "#000", "strokeWidth": 1, "opacity": 1},
   "encoding": {"x": {"field": "x", "type": "quantitative"}, "y": {"field": "y", "type": "quantitative"}}},
  {"data": {"name": "marks"}, "transform": [{"filter": "datum.p == '5.0'"}], "mark": {"type": "text", "align": "left", "baseline": "alphabetic", "dx": 0, "dy": -4, "fontSize": 7.5, "font": "Liberation Sans", "color": "#333"},
   "encoding": {"x": {"field": "x", "type": "quantitative"}, "y": {"field": "y", "type": "quantitative"}, "text": {"field": "t"}}},
  {"data": {"name": "one"}, "mark": {"type": "rule", "color": "#000", "strokeWidth": 1.5}, "encoding": {"x": {"datum": -74.5}, "x2": {"datum": 111.2}, "y": {"datum": 139.25}}},
  {"data": {"name": "one"}, "mark": {"type": "rule", "color": "#000", "strokeWidth": 1.2}, "encoding": {"x": {"datum": -74.5}, "y": {"datum": 139.25}, "y2": {"datum": -43.5}}},
  {"data": {"name": "one"}, "mark": {"type": "rect", "fill": "#fff", "stroke": "#000", "strokeWidth": 1}, "encoding": {"x": {"datum": -74.8}, "x2": {"datum": -21.6}, "y": {"datum": 139.0}, "y2": {"datum": 113.2}}},
  {"data": {"name": "one"}, "mark": {"type": "text", "font": "Lato", "fontSize": 25, "align": "center", "baseline": "middle", "color": "#000"}, "encoding": {"x": {"datum": -48.5}, "y": {"datum": 126.1}, "text": {"value": "5.0 KT"}}}
 ]}
],
"config": {
 "view": {"stroke": "#000", "strokeWidth": 1.5},
 "axis": {"grid": true, "gridColor": "#000", "gridWidth": 1.4, "gridOpacity": 1, "domain": false, "ticks": false, "labelFlush": false, "labelFont": "Liberation Sans", "labelFontSize": 8, "labelColor": "#555", "labelPadding": 3.5, "titleFont": "Liberation Sans", "titleFontSize": 8.5, "titleFontWeight": "normal", "titleColor": "#444", "titlePadding": 3},
 "axisY": {"labelPadding": 4}
}
}
